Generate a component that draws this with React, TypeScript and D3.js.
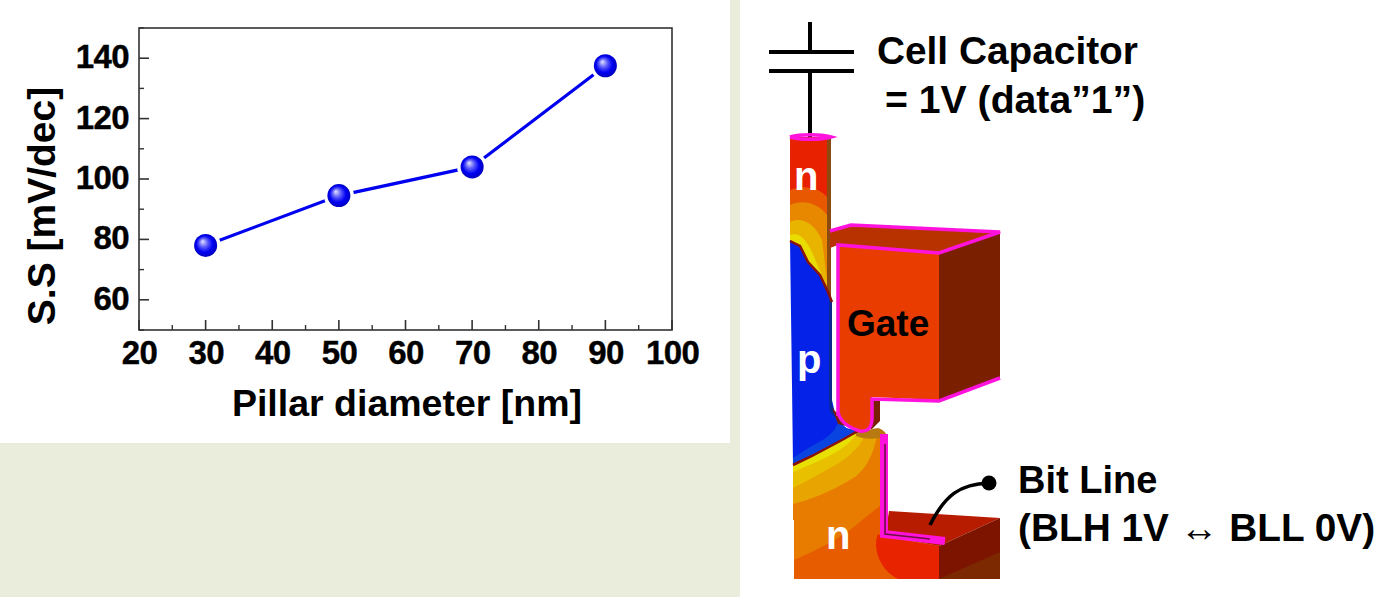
import React, { useEffect, useRef } from "react";
import * as d3 from "d3";

const diameters = [30, 50, 70, 90];
const ssValues = [78, 94.5, 104, 137.5];
const xTicks = [20, 30, 40, 50, 60, 70, 80, 90, 100];
const xMinorTicks = [25, 35, 45, 55, 65, 75, 85, 95];
const yTicks = [60, 80, 100, 120, 140];
const yMinorTicks = [50, 70, 90, 110, 130, 150];

const FONT = "'Liberation Sans', Arial, sans-serif";
const PINK = "#ff12dc";

// device drawing, [path, fill]
const deviceShapes: [string, string][] = [
  // lower n region
  ["M793 462 L858 431 L881 436 L881 536 L939 546 L939 579 L794 579 L794 520 L793 520 Z", "#e87c00"],
  ["M794 579 L794 560 C812 552 840 540 862 520 L881 505 L881 536 L939 546 L939 579 Z", "#e85c00"],
  ["M878 534 L881 536 L939 546 L939 579 L898 579 C880 570 872 548 878 534 Z", "#e82400"],
  ["M793 462 L858 431 L877 436 C874 452 866 472 850 480 C830 492 810 500 793 504 Z", "#e8a400"],
  ["M793 462 L858 431 L866 434 C858 450 845 460 832 467 C818 475 805 482 793 488 Z", "#e8c000"],
  ["M793 464 L812 455 L842 438 L858 431 C852 443 838 452 825 458 C812 464 802 468 793 472 Z", "#e8e000"],
  // bit line box
  ["M889 511 L1000 518 L939 546 L885 536 Z", "#b81c00"],
  ["M939 546 L1000 518 L1000 579 L939 579 Z", "#7c1400"],
  ["M939 579 L1000 552 L1000 579 Z", "#7c2800"],
  // pillar
  ["M790 137 L831 137 L831 300 L828 292 L820 275 L808 262 L800 246 L790 240 Z", "#e82200"],
  ["M790 190 C805 184 820 188 828 198 L828 290 L820 275 L808 262 L800 246 L790 240 Z", "#e85800"],
  ["M790 205 C805 198 820 205 827 215 L828 290 L820 275 L808 262 L800 246 L790 240 Z", "#e88800"],
  ["M790 222 C802 216 815 224 822 240 L828 288 L820 275 L808 262 L800 246 L790 240 Z", "#e8b400"],
  ["M790 235 C800 232 806 240 812 252 L826 285 L820 275 L808 262 L800 246 L790 240 Z", "#e8dc00"],
  ["M827 137 L831 137 L831 300 L827 290 Z", "#8a4a10"],
  // p body
  ["M790 240 L800 246 L808 262 L820 275 L828 292 L832 300 L832 400 L836 418 L846 428 L858 431 L842 439 L812 455 L793 465 L792 385 Z", "#0422e8"],
  ["M829 300 L832 300 L832 405 L838 420 L830 412 L829 400 Z", "#0a2a90"],
  ["M793 465 L812 455 L842 439 L858 431 L848 429 L838 422 C836 432 824 440 810 447 L793 458 Z", "#0a44e0"],
  // gate
  ["M830 230 L851 224 L1000 232 L939 252 L838 245 L830 248 Z", "#b83200"],
  ["M939 252 L1000 232 L1000 378 L939 400 Z", "#7a2000"],
  ["M871 398 L880 398 L880 421 L871 430 Z", "#7a2000"],
  ["M838 245 L939 252 L939 400 L872 397 L871 424 C870 430 862 432 856 430 C846 426 838 420 838 410 Z", "#e83c00"],
  ["M832 408 L838 414 L846 426 L838 424 Z", "#7a2000"],
  // oxide at the foot
  ["M856 431 C866 432 874 428 878 428 C884 430 888 434 885 437 C876 439 866 440 856 436 Z", "#b87a10"],
];

const deviceEdges = [
  "M790 137 C800 134 820 134 831 137 C820 140 800 140 790 137",
  "M838 416 L838 245 L939 253 L1000 232 L851 225 L830 231",
  "M838 412 C840 422 850 428 860 431 C868 432 871 428 872 420 L872 399 L939 401 L1000 378",
];

const contourEdges = [
  "M790 241 L800 246 L808 262 L820 275 L828 292 L832 302",
  "M793 465 L812 456 L842 440 L858 431",
];

export default function App() {
  const svgRef = useRef<SVGSVGElement>(null);

  useEffect(() => {
    if (!svgRef.current) return;

    const svg = d3.select(svgRef.current);
    svg.selectAll("*").remove();

    // Background panels
    svg.append("rect").attr("width", 1400).attr("height", 597).attr("fill", "#fff");
    svg.append("rect").attr("y", 443).attr("width", 740).attr("height", 154).attr("fill", "#eaecdc");
    svg.append("rect").attr("x", 730).attr("width", 10).attr("height", 597).attr("fill", "#eaecdc");

    const defs = svg.append("defs");
    const ball = defs
      .append("radialGradient")
      .attr("id", "ball")
      .attr("cx", "50%")
      .attr("cy", "50%")
      .attr("r", "55%")
      .attr("fx", "36%")
      .attr("fy", "32%");
    ball.append("stop").attr("offset", "0%").attr("stop-color", "#e4e4ff");
    ball.append("stop").attr("offset", "35%").attr("stop-color", "#5a5af8");
    ball.append("stop").attr("offset", "65%").attr("stop-color", "#0000f4");
    ball.append("stop").attr("offset", "100%").attr("stop-color", "#0000b0");

    const x = d3.scaleLinear().domain([20, 100]).range([139, 672]);
    const y = d3.scaleLinear().domain([50, 150]).range([330, 28]);

    const g = svg.append("g");

    // Frame
    g.append("rect")
      .attr("x", 139)
      .attr("y", 28)
      .attr("width", 533)
      .attr("height", 302)
      .attr("fill", "none")
      .attr("stroke", "#333")
      .attr("stroke-width", 1.6);

    // Axes
    const xAxis = g
      .append("g")
      .attr("transform", "translate(0,330)")
      .call(d3.axisBottom(x).tickValues(xTicks).tickSize(0).tickFormat((d) => `${d}`));
    xAxis.select(".domain").remove();
    xAxis
      .selectAll("text")
      .attr("y", 11)
      .attr("font-family", FONT)
      .attr("font-weight", "bold")
      .attr("font-size", 33)
      .attr("letter-spacing", -0.6)
      .attr("stroke", "#000")
      .attr("stroke-width", 0.4)
      .attr("fill", "#000");

    xTicks.forEach((d) => {
      g.append("line")
        .attr("x1", x(d))
        .attr("x2", x(d))
        .attr("y1", 330)
        .attr("y2", 320)
        .attr("stroke", "#333")
        .attr("stroke-width", 1.6);
    });
    xMinorTicks.forEach((d) => {
      g.append("line")
        .attr("x1", x(d))
        .attr("x2", x(d))
        .attr("y1", 330)
        .attr("y2", 325)
        .attr("stroke", "#333")
        .attr("stroke-width", 1.4);
    });

    const yAxis = g
      .append("g")
      .attr("transform", "translate(139,0)")
      .call(d3.axisLeft(y).tickValues(yTicks).tickSize(0).tickFormat((d) => `${d}`));
    yAxis.select(".domain").remove();
    yAxis
      .selectAll("text")
      .attr("x", -10)
      .attr("y", -1)
      .attr("font-family", FONT)
      .attr("font-weight", "bold")
      .attr("font-size", 33)
      .attr("letter-spacing", -0.6)
      .attr("stroke", "#000")
      .attr("stroke-width", 0.4)
      .attr("fill", "#000");

    yTicks.forEach((d) => {
      g.append("line")
        .attr("x1", 139)
        .attr("x2", 149)
        .attr("y1", y(d))
        .attr("y2", y(d))
        .attr("stroke", "#333")
        .attr("stroke-width", 1.6);
    });
    yMinorTicks.forEach((d) => {
      g.append("line")
        .attr("x1", 139)
        .attr("x2", 144)
        .attr("y1", y(d))
        .attr("y2", y(d))
        .attr("stroke", "#333")
        .attr("stroke-width", 1.4);
    });

    // Axis titles
    g.append("text")
      .attr("x", 407)
      .attr("y", 416)
      .attr("text-anchor", "middle")
      .attr("font-family", FONT)
      .attr("font-weight", "bold")
      .attr("font-size", 37.5)
      .attr("fill", "#000")
      .text("Pillar diameter [nm]");

    g.append("text")
      .attr("transform", "translate(55,206) rotate(-90)")
      .attr("text-anchor", "middle")
      .attr("font-family", FONT)
      .attr("font-weight", "bold")
      .attr("font-size", 39)
      .attr("fill", "#000")
      .text("S.S [mV/dec]");

    // Line and points
    const points = diameters.map((d, i) => [x(d), y(ssValues[i])] as [number, number]);
    g.append("path")
      .attr("d", d3.line()(points))
      .attr("fill", "none")
      .attr("stroke", "#0000f0")
      .attr("stroke-width", 3.2);

    g.selectAll("circle.pt")
      .data(points)
      .enter()
      .append("circle")
      .attr("class", "pt")
      .attr("cx", (d) => d[0])
      .attr("cy", (d) => d[1])
      .attr("r", 15)
      .attr("fill", "#fff");
    g.selectAll("circle.ball")
      .data(points)
      .enter()
      .append("circle")
      .attr("class", "ball")
      .attr("cx", (d) => d[0])
      .attr("cy", (d) => d[1])
      .attr("r", 11.5)
      .attr("fill", "url(#ball)");

    // Device
    const device = svg.append("g");

    // capacitor symbol
    device.append("path")
      .attr("d", "M810 22 L810 50 M769 52 L854 52 M769 71 L854 71 M810 71 L810 137")
      .attr("fill", "none")
      .attr("stroke", "#000")
      .attr("stroke-width", 4);

    deviceShapes.forEach(([d, fill]) => {
      device.append("path").attr("d", d).attr("fill", fill);
    });

    contourEdges.forEach((d) => {
      device.append("path").attr("d", d).attr("fill", "none").attr("stroke", "#8a1208").attr("stroke-width", 2.5);
    });

    deviceEdges.forEach((d) => {
      device.append("path").attr("d", d).attr("fill", "none").attr("stroke", PINK).attr("stroke-width", 3.5);
    });

    // bit line oxide strip with its dark core
    device.append("path")
      .attr("d", "M888 438 L884 438 L884 534 L945 541")
      .attr("fill", "none")
      .attr("stroke", PINK)
      .attr("stroke-width", 8);
    device.append("path")
      .attr("d", "M885 444 L885 534 L930 539")
      .attr("fill", "none")
      .attr("stroke", "#701040")
      .attr("stroke-width", 1.6);

    // bit line pointer
    device.append("path")
      .attr("d", "M930 525 C945 495 960 484 989 483")
      .attr("fill", "none")
      .attr("stroke", "#000")
      .attr("stroke-width", 3.5);
    device.append("circle").attr("cx", 989).attr("cy", 483).attr("r", 7.5).attr("fill", "#000");

    const labels: [string, number, number, string, number][] = [
      ["Cell Capacitor", 877, 64, "#000", 38.8],
      ["= 1V (data\u201d1\u201d)", 885, 113, "#000", 39.2],
      ["Bit Line", 1018, 493, "#000", 38],
      ["(BLH 1V \u2194 BLL 0V)", 1018, 541, "#000", 38.8],
      ["Gate", 847, 336, "#000", 37],
      ["n", 794, 190, "#fff", 40],
      ["p", 797, 373, "#fff", 40],
      ["n", 826, 549, "#fff", 40],
    ];
    labels.forEach(([t, lx, ly, c, size]) => {
      device.append("text")
        .attr("x", lx)
        .attr("y", ly)
        .attr("font-family", FONT)
        .attr("font-weight", "bold")
        .attr("font-size", size)
        .attr("fill", c)
        .text(t);
    });
  }, []);

  return (
    <svg
      ref={svgRef}
      width={1400}
      height={597}
      viewBox="0 0 1400 597"
      style={{ position: "fixed", left: 0, top: 0, display: "block" }}
    />
  );
}
